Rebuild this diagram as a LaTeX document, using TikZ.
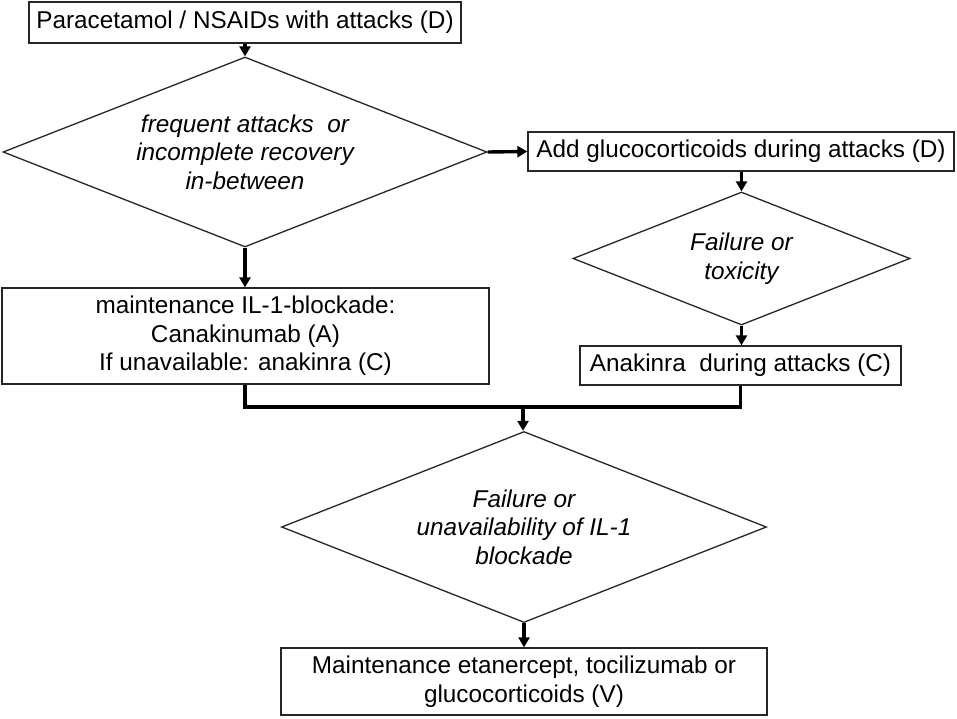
\documentclass[tikz,border=0pt]{standalone}
\usepackage{fontspec}
\setmainfont{Liberation Sans}
\usetikzlibrary{shapes.geometric,arrows.meta}
\begin{document}
\begin{tikzpicture}[x=1pt,y=-1pt,
  boxnode/.style={draw=black!85,line width=1.3pt,rectangle,inner sep=0pt,align=center,font=\fontsize{24.3}{28.6}\selectfont},
  decnode/.style={draw=black!85,line width=1.3pt,diamond,inner sep=0pt},
  dectext/.style={align=center,inner sep=0pt,font=\fontsize{24.3}{28.6}\selectfont\itshape},
  conn/.style={line width=3.4pt,black},
  arr/.style={conn,-{Triangle[length=10pt,width=11pt]}}]
\useasboundingbox (0,0) rectangle (957,718);
\fill[white] (0,0) rectangle (957,718);
\node[boxnode,minimum width=432pt,minimum height=41pt] (b1) at (245,22.5) {Paracetamol / NSAIDs with attacks (D)};
\node[decnode,minimum width=484pt,minimum height=190pt] (d1) at (245,152) {};
\node[dectext] (t1) at (d1.center) {frequent attacks~ or\\incomplete recovery\\in-between};
\node[boxnode,minimum width=426pt,minimum height=39pt] (b2) at (741,151.5) {Add glucocorticoids during attacks (D)};
\node[decnode,minimum width=337pt,minimum height=133pt] (d2) at (741.5,258.5) {};
\node[dectext] (t2) at (d2.center) {Failure or\\toxicity};
\node[boxnode,minimum width=321pt,minimum height=39pt] (b3) at (740.5,365.5) {Anakinra~ during attacks (C)};
\node[boxnode,minimum width=487pt,minimum height=96pt] (b4) at (245.5,336) {maintenance IL-1-blockade:\\Canakinumab (A)\\If unavailable: anakinra (C)};
\node[decnode,minimum width=485pt,minimum height=191pt] (d3) at (524,527) {};
\node[dectext] (t3) at (d3.center) {Failure or\\unavailability of IL-1\\blockade};
\node[boxnode,minimum width=486pt,minimum height=67pt] (b5) at (524,681.5) {Maintenance etanercept, tocilizumab or\\glucocorticoids (V)};
\coordinate (j) at (523,407);
\draw[arr] (b1.south) -- (d1.north);
\draw[arr] (d1.east) -- (b2.west);
\draw[arr] (d1.south) -- (d1.south |- b4.north);
\draw[arr] (b2.south -| d2.north) -- (d2.north);
\draw[arr] (d2.south) -- (d2.south |- b3.north);
\draw[conn] (b4.south -| d1.south) -- (d1.south |- j) -- (b3.south |- j) -- (b3.south);
\draw[arr] (j) -- (j |- d3.north);
\draw[arr] (d3.south) -- (d3.south |- b5.north);
\end{tikzpicture}
\end{document}
